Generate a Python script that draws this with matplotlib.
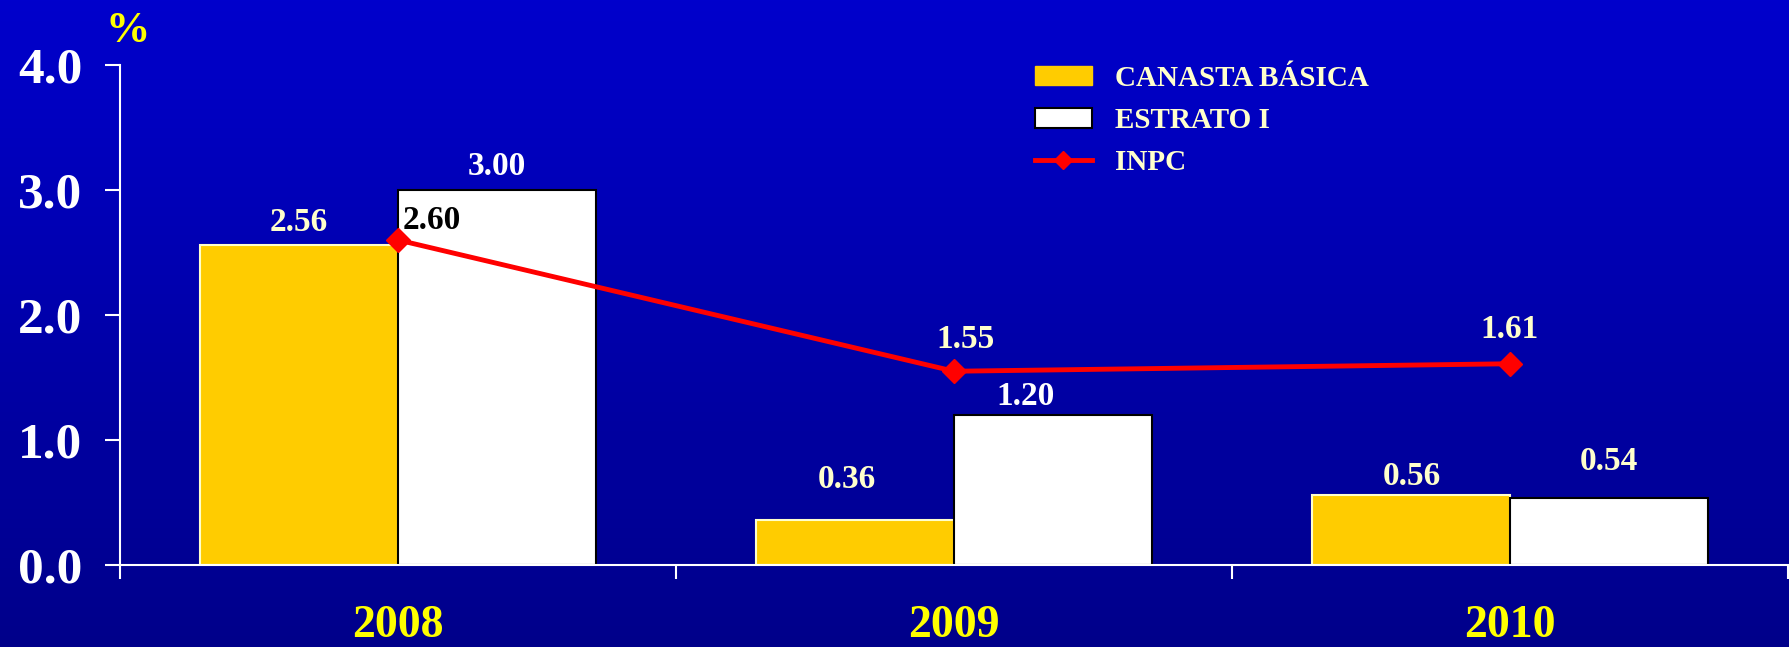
import numpy as np
import matplotlib
matplotlib.use('Agg')
import matplotlib.pyplot as plt
from matplotlib.patches import Patch
from matplotlib.lines import Line2D

# Data
years = ['2008', '2009', '2010']
canasta = [2.56, 0.36, 0.56]
estrato = [3.00, 1.20, 0.54]
inpc = [2.60, 1.55, 1.61]

yticks = [0.0, 1.0, 2.0, 3.0, 4.0]

plt.rcParams['font.family'] = ['Liberation Serif', 'DejaVu Serif']
plt.rcParams['font.weight'] = 'bold'

cream = '#FFFFCC'
gold = '#FFCC00'

fig = plt.figure(figsize=(17.9, 6.47), dpi=100)

# gradient background
bg = fig.add_axes([0, 0, 1, 1], zorder=-10)
grad = np.linspace(0, 1, 256).reshape(-1, 1)
top = np.array([0, 0, 204]) / 255
bot = np.array([0, 0, 138]) / 255
img = top[None, None, :] * (1 - grad[:, :, None]) + bot[None, None, :] * grad[:, :, None]
bg.imshow(img, aspect='auto', extent=[0, 1, 0, 1])
bg.axis('off')

ax = fig.add_axes([120 / 1790, 1 - 565 / 647, 1668 / 1790, 500 / 647])
ax.set_facecolor('none')

x = np.arange(len(years))
w = 0.357
ax.bar(x - w / 2, canasta, w, color=gold, edgecolor=cream, linewidth=1.5, zorder=2)
ax.bar(x + w / 2, estrato, w, color='white', edgecolor='black', linewidth=1.5, zorder=2)
ax.plot(x, inpc, color='#FF0000', lw=3.5, marker='D', ms=12, zorder=4)

# value labels (offsets in points)
can_off = [(0, 16), (-6, 29), (1, 13)]
est_off = [(0, 17), (-20, 13), (0, 26)]
inpc_off = [(24, 14), (8, 23), (0, 25)]
can_col = [cream, cream, cream]
est_col = ['white', 'white', cream]
inpc_col = ['black', cream, cream]
lab_fs = 24
for i in range(len(years)):
    ax.annotate(f'{canasta[i]:.2f}', (x[i] - w / 2, canasta[i]), xytext=can_off[i],
                textcoords='offset points', ha='center', va='center',
                fontsize=lab_fs, fontweight='bold', color=can_col[i], zorder=5)
    ax.annotate(f'{estrato[i]:.2f}', (x[i] + w / 2, estrato[i]), xytext=est_off[i],
                textcoords='offset points', ha='center', va='center',
                fontsize=lab_fs, fontweight='bold', color=est_col[i], zorder=5)
    ax.annotate(f'{inpc[i]:.2f}', (x[i], inpc[i]), xytext=inpc_off[i],
                textcoords='offset points', ha='center', va='center',
                fontsize=lab_fs, fontweight='bold', color=inpc_col[i], zorder=5)

ax.set_xlim(-0.5, 2.5)
ax.set_ylim(0, 4)
ax.set_yticks(yticks)
ax.set_yticklabels([f'{v:.1f}' for v in yticks], fontsize=37, fontweight='bold', color='white')
ax.tick_params(axis='y', direction='out', length=11, width=1.5, color='white', pad=16)

ax.set_xticks([-0.5, 0.5, 1.5, 2.5])
ax.set_xticklabels([])
ax.tick_params(axis='x', which='major', direction='out', length=10, width=1.5, color='white')
ax.set_xticks(x, minor=True)
ax.set_xticklabels(years, minor=True, fontsize=33, fontweight='bold', color='#FFFF00')
ax.tick_params(axis='x', which='minor', length=0, pad=29)

for s in ['top', 'right']:
    ax.spines[s].set_visible(False)
for s in ['left', 'bottom']:
    ax.spines[s].set_color('white')
    ax.spines[s].set_linewidth(1.5)

fig.text(128 / 1790, 1 - 31 / 647, '%', fontsize=32, fontweight='bold', color='#FFFF00',
         ha='center', va='center')

handles = [Patch(facecolor=gold, edgecolor=gold),
           Patch(facecolor='white', edgecolor='black', linewidth=1.5),
           Line2D([0], [0], color='#FF0000', lw=3.5, marker='D', ms=9)]
labels = ['CANASTA BÁSICA', 'ESTRATO I', 'INPC']
leg = fig.legend(handles, labels, loc='upper left', bbox_to_anchor=(1035 / 1790, 1 - 65 / 647),
                 frameon=False, handlelength=1.95, handleheight=0.65,
                 handletextpad=0.78, labelspacing=0.52, borderpad=0, borderaxespad=0,
                 prop={'weight': 'bold', 'size': 21})
for t in leg.get_texts():
    t.set_color(cream)

fig.savefig('out.png', dpi=100)
